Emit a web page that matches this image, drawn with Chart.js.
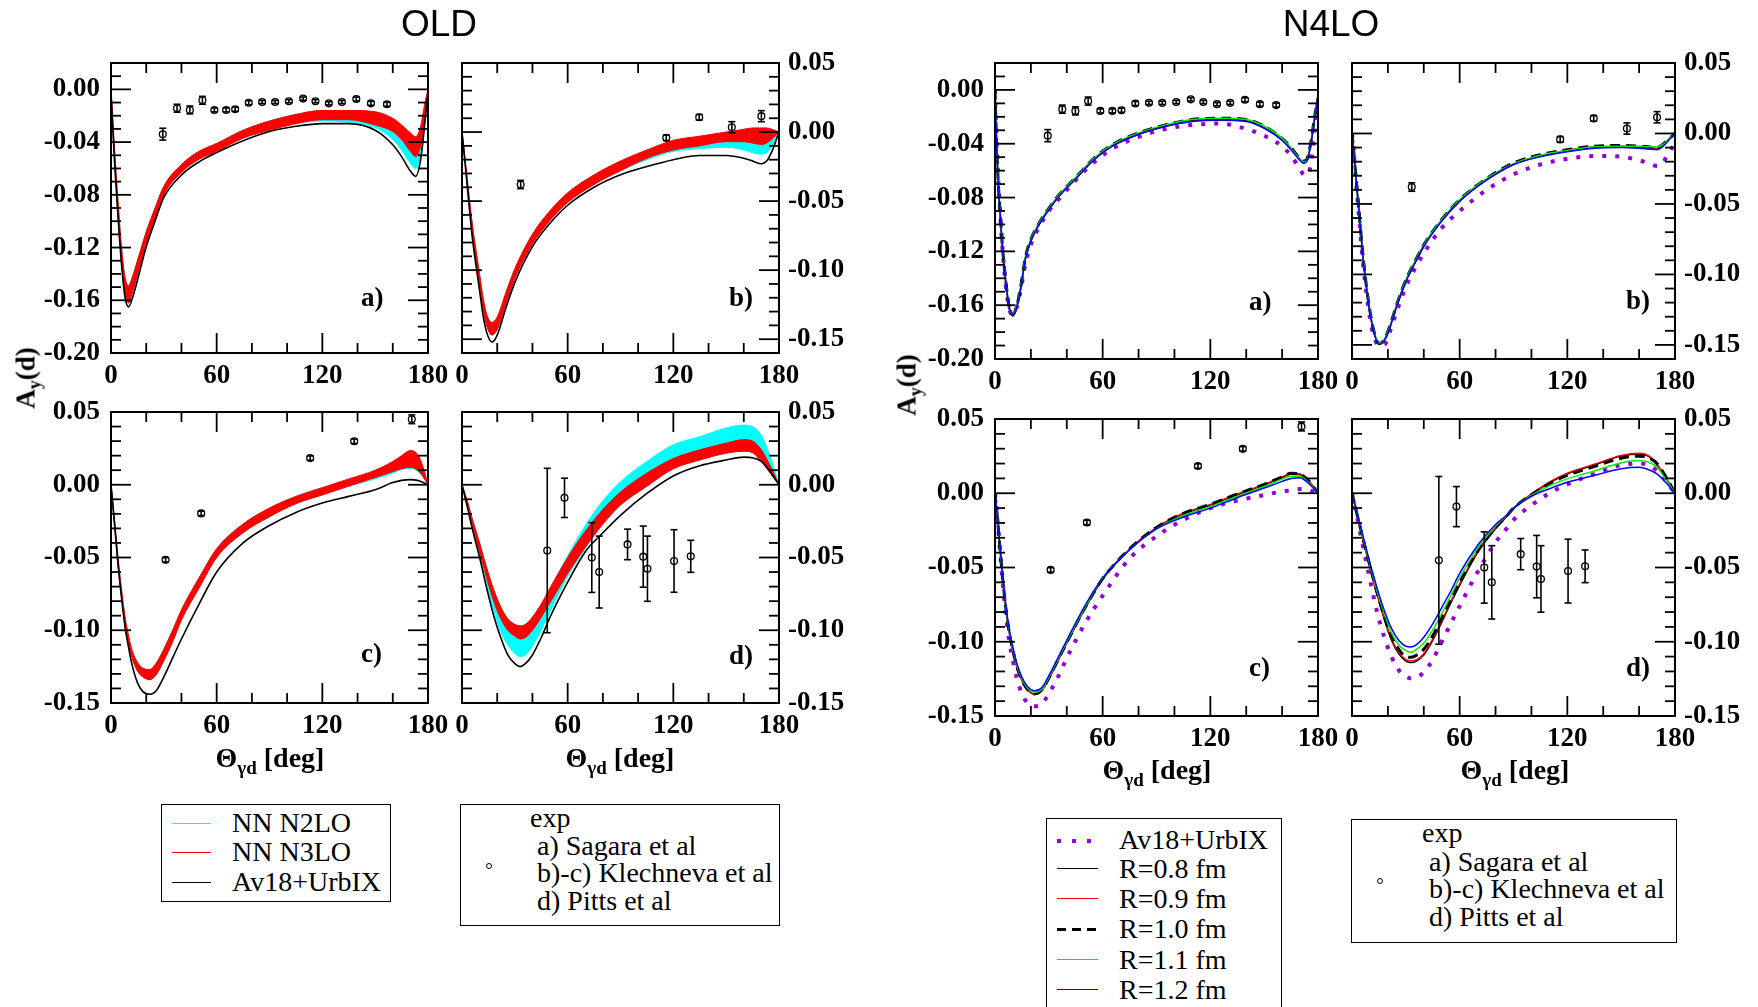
<!DOCTYPE html>
<html><head><meta charset="utf-8">
<script src="https://cdn.jsdelivr.net/npm/chart.js@4/dist/chart.umd.min.js"></script>
<style>
html,body{margin:0;padding:0;background:#fff;}
body{width:1758px;height:1007px;position:relative;overflow:hidden;}
canvas{position:absolute;}
.t{position:absolute;white-space:nowrap;color:#000;line-height:1;}
.serif{font-family:"Liberation Serif","Times New Roman",serif;}
.sans{font-family:"Liberation Sans",Arial,sans-serif;}
.box{position:absolute;border:1.5px solid #000;box-sizing:border-box;background:#fff;}
.ls{position:absolute;height:0;}
.circ{position:absolute;width:6px;height:6px;border:1.2px solid #000;border-radius:50%;box-sizing:border-box;}
</style></head><body>
<script>
// ---------- axis ticks ----------
const xTicks = [0, 60, 120, 180];
const xMinorTicks = [20, 40, 80, 100, 140, 160];
const yTicksA = [-0.20, -0.16, -0.12, -0.08, -0.04, 0.00];
const yTicksBCD = [-0.15, -0.10, -0.05, 0.00, 0.05];
const yRangeA = [-0.20, 0.02];
const yRangeB = [-0.16, 0.05];
const yRangeCD = [-0.15, 0.05];

// ---------- experimental data ----------
const sagX = [29.4, 37.5, 44.8, 51.9, 58.7, 65.4, 70.5, 78.2, 85.8, 93.2, 101.0, 109.1, 116.1, 123.7, 131.1, 139.3, 147.6, 156.7];
const sagY = [-0.034, -0.0143, -0.0156, -0.0083, -0.0156, -0.0156, -0.0151, -0.0101, -0.0096, -0.0096, -0.0090, -0.0070, -0.0090, -0.0106, -0.0096, -0.0073, -0.0106, -0.0113];
const sagE = [0.0045, 0.003, 0.003, 0.003, 0.0015, 0.0015, 0.0015, 0.0015, 0.0012, 0.0012, 0.0012, 0.0012, 0.0012, 0.0012, 0.0012, 0.0015, 0.0015, 0.0015];
const klbX = [33.3, 116.0, 134.7, 153.2, 170.0];
const klbY = [-0.038, -0.0042, 0.0107, 0.0035, 0.0115];
const klbE = [0.003, 0.002, 0.002, 0.004, 0.004];
const klcX = [31.0, 51.2, 113.1, 138.1, 170.8];
const klcY = [-0.0516, -0.0197, 0.0183, 0.0299, 0.045];
const klcE = [0.0015, 0.0015, 0.0015, 0.0015, 0.003];
const pitX = [48.4, 58.2, 73.7, 77.9, 94.0, 102.9, 105.3, 120.4, 129.9];
const pitY = [-0.0452, -0.0090, -0.0500, -0.0600, -0.0410, -0.0494, -0.0577, -0.0524, -0.0492];
const pitE = [0.0565, 0.0135, 0.024, 0.0247, 0.0105, 0.021, 0.0224, 0.0215, 0.011];

// ---------- OLD a ----------
const oldA_x = [0, 2, 4, 6, 8, 10, 12, 15, 20, 25, 30, 40, 50, 60, 75, 90, 105, 120, 135, 150, 160, 165, 170, 173, 176, 178, 180];
const oldA_av = [-0.002, -0.055, -0.097, -0.133, -0.158, -0.165, -0.159, -0.145, -0.1195, -0.100, -0.082, -0.065, -0.055, -0.048, -0.039, -0.032, -0.028, -0.026, -0.026, -0.031, -0.042, -0.051, -0.062, -0.066, -0.052, -0.028, -0.002];
const oldA_n3Up = [0, -0.045, -0.085, -0.120, -0.143, -0.149, -0.143, -0.130, -0.108, -0.090, -0.0735, -0.057, -0.047, -0.041, -0.031, -0.024, -0.019, -0.016, -0.016, -0.017, -0.022, -0.027, -0.033, -0.036, -0.027, -0.012, 0];
const oldA_n3Lo = [-0.002, -0.052, -0.094, -0.130, -0.155, -0.162, -0.155, -0.141, -0.118, -0.098, -0.080, -0.063, -0.053, -0.047, -0.037, -0.031, -0.026, -0.023, -0.023, -0.027, -0.032, -0.038, -0.047, -0.051, -0.042, -0.025, -0.004];
const oldA_n2Up = [0, -0.045, -0.085, -0.120, -0.143, -0.149, -0.143, -0.130, -0.108, -0.090, -0.0735, -0.057, -0.047, -0.041, -0.031, -0.024, -0.019, -0.016, -0.016, -0.018, -0.023, -0.029, -0.036, -0.040, -0.031, -0.014, 0];
const oldA_n2Lo = [-0.002, -0.052, -0.094, -0.130, -0.155, -0.162, -0.155, -0.141, -0.118, -0.098, -0.080, -0.063, -0.053, -0.047, -0.037, -0.031, -0.026, -0.024, -0.025, -0.029, -0.038, -0.046, -0.056, -0.060, -0.050, -0.028, -0.004];

// ---------- OLD b ----------
const oldB_x = [0, 2, 4, 6, 8, 10, 12, 14, 17, 20, 25, 30, 40, 50, 60, 75, 90, 105, 120, 135, 150, 160, 165, 170, 173, 176, 180];
const oldB_av = [0, -0.026, -0.053, -0.078, -0.097, -0.115, -0.133, -0.145, -0.152, -0.147, -0.127, -0.109, -0.083, -0.066, -0.053, -0.040, -0.031, -0.025, -0.020, -0.017, -0.017, -0.019, -0.021, -0.023, -0.021, -0.014, 0];
const oldB_n3Up = [0, -0.022, -0.046, -0.068, -0.086, -0.103, -0.120, -0.132, -0.138, -0.134, -0.116, -0.099, -0.074, -0.057, -0.044, -0.031, -0.021, -0.013, -0.006, -0.003, 0.000, 0.002, 0.003, 0.003, 0.003, 0.002, 0];
const oldB_n3Lo = [0, -0.025, -0.050, -0.074, -0.093, -0.111, -0.128, -0.140, -0.147, -0.143, -0.124, -0.106, -0.081, -0.064, -0.051, -0.038, -0.028, -0.019, -0.013, -0.010, -0.007, -0.007, -0.008, -0.009, -0.008, -0.005, 0];
const oldB_n2Up = [0, -0.022, -0.046, -0.068, -0.086, -0.103, -0.120, -0.132, -0.138, -0.134, -0.116, -0.099, -0.074, -0.057, -0.044, -0.031, -0.021, -0.013, -0.007, -0.004, -0.002, -0.001, -0.001, -0.001, -0.001, 0.000, 0];
const oldB_n2Lo = [0, -0.025, -0.050, -0.074, -0.093, -0.111, -0.128, -0.140, -0.147, -0.143, -0.124, -0.106, -0.081, -0.064, -0.051, -0.038, -0.028, -0.020, -0.014, -0.012, -0.011, -0.013, -0.015, -0.016, -0.015, -0.010, 0];

// ---------- OLD c ----------
const oldC_x = [0, 2, 4, 6, 8, 10, 12, 15, 18, 22, 26, 30, 35, 40, 50, 60, 75, 90, 105, 120, 135, 150, 160, 165, 170, 174, 177, 180];
const oldC_av = [0, -0.027, -0.055, -0.078, -0.098, -0.112, -0.124, -0.136, -0.142, -0.144, -0.141, -0.132, -0.119, -0.106, -0.082, -0.060, -0.040, -0.028, -0.019, -0.0126, -0.008, -0.0034, 0.0015, 0.003, 0.0035, 0.003, 0.0017, 0];
const oldC_n3Up = [0, -0.024, -0.050, -0.072, -0.091, -0.104, -0.114, -0.122, -0.126, -0.127, -0.122, -0.113, -0.100, -0.086, -0.064, -0.044, -0.027, -0.016, -0.008, -0.002, 0.004, 0.010, 0.016, 0.020, 0.0235, 0.021, 0.013, 0];
const oldC_n3Lo = [0, -0.027, -0.054, -0.077, -0.096, -0.109, -0.119, -0.128, -0.132, -0.134, -0.130, -0.121, -0.108, -0.093, -0.071, -0.050, -0.033, -0.022, -0.013, -0.007, -0.001, 0.005, 0.009, 0.011, 0.012, 0.010, 0.006, 0];
const oldC_n2Up = [0, -0.024, -0.050, -0.072, -0.091, -0.104, -0.114, -0.122, -0.126, -0.127, -0.122, -0.113, -0.100, -0.086, -0.064, -0.044, -0.027, -0.016, -0.008, -0.002, 0.003, 0.008, 0.012, 0.014, 0.015, 0.013, 0.008, 0];
const oldC_n2Lo = [0, -0.027, -0.054, -0.077, -0.096, -0.109, -0.119, -0.128, -0.132, -0.134, -0.130, -0.121, -0.108, -0.093, -0.071, -0.050, -0.033, -0.022, -0.013, -0.007, -0.001, 0.004, 0.008, 0.0105, 0.0113, 0.0095, 0.0055, 0];

// ---------- OLD d ----------
const oldD_x = [0, 3, 6, 10, 14, 18, 22, 26, 30, 33, 36, 40, 45, 50, 60, 70, 80, 90, 105, 120, 135, 150, 160, 165, 170, 175, 180];
const oldD_av = [0, -0.015, -0.031, -0.050, -0.071, -0.090, -0.105, -0.117, -0.123, -0.125, -0.123, -0.117, -0.105, -0.091, -0.067, -0.046, -0.033, -0.021, -0.006, 0.006, 0.013, 0.017, 0.019, 0.0185, 0.016, 0.009, 0];
const oldD_n3Up = [0, -0.011, -0.024, -0.040, -0.057, -0.072, -0.084, -0.092, -0.096, -0.097, -0.096, -0.091, -0.082, -0.071, -0.050, -0.032, -0.017, -0.005, 0.008, 0.018, 0.024, 0.0286, 0.031, 0.030, 0.024, 0.013, 0];
const oldD_n3Lo = [0, -0.013, -0.028, -0.046, -0.064, -0.080, -0.092, -0.100, -0.104, -0.106, -0.105, -0.100, -0.091, -0.081, -0.061, -0.043, -0.027, -0.014, -0.001, 0.011, 0.017, 0.0217, 0.023, 0.022, 0.016, 0.008, 0];
const oldD_n2Up = [0, -0.011, -0.024, -0.040, -0.057, -0.072, -0.084, -0.092, -0.096, -0.097, -0.096, -0.091, -0.082, -0.071, -0.049, -0.028, -0.011, 0.002, 0.016, 0.0275, 0.033, 0.039, 0.041, 0.040, 0.034, 0.019, 0];
const oldD_n2Lo = [0, -0.014, -0.030, -0.048, -0.068, -0.086, -0.101, -0.110, -0.116, -0.118, -0.117, -0.111, -0.100, -0.087, -0.063, -0.044, -0.027, -0.014, -0.001, 0.011, 0.017, 0.0217, 0.023, 0.022, 0.016, 0.008, 0];

// ---------- N4LO a ----------
const n4A_x = [0, 1, 2, 3, 4, 6, 8, 10, 12, 14, 17, 20, 25, 30, 35, 45, 55, 65, 80, 95, 110, 125, 140, 150, 160, 165, 170, 172, 174, 176, 178, 180];
const n4A_av = [0, -0.040, -0.072, -0.094, -0.115, -0.145, -0.163, -0.167, -0.162, -0.151, -0.129, -0.115, -0.101, -0.090, -0.082, -0.067, -0.054, -0.044, -0.035, -0.029, -0.026, -0.025, -0.029, -0.034, -0.042, -0.049, -0.059, -0.063, -0.0635, -0.055, -0.032, -0.007];
const n4A_r08 = [0, -0.044, -0.074, -0.094, -0.115, -0.143, -0.163, -0.168, -0.162, -0.150, -0.125, -0.112, -0.099, -0.089, -0.080, -0.066, -0.052, -0.042, -0.033, -0.027, -0.023, -0.022, -0.023, -0.028, -0.037, -0.044, -0.052, -0.054, -0.052, -0.040, -0.022, -0.006];
const n4A_r09 = [0, -0.044, -0.074, -0.094, -0.115, -0.143, -0.163, -0.168, -0.162, -0.150, -0.125, -0.112, -0.099, -0.089, -0.080, -0.066, -0.052, -0.042, -0.033, -0.027, -0.023, -0.0215, -0.0225, -0.0275, -0.0365, -0.0435, -0.0515, -0.0535, -0.0515, -0.040, -0.022, -0.006];
const n4A_r10 = [0, -0.044, -0.073, -0.093, -0.114, -0.142, -0.162, -0.167, -0.161, -0.149, -0.124, -0.111, -0.098, -0.088, -0.079, -0.065, -0.051, -0.041, -0.032, -0.026, -0.022, -0.021, -0.022, -0.027, -0.036, -0.043, -0.051, -0.053, -0.051, -0.039, -0.021, -0.006];
const n4A_r11 = [0, -0.044, -0.073, -0.093, -0.114, -0.142, -0.162, -0.167, -0.161, -0.149, -0.124, -0.111, -0.098, -0.088, -0.079, -0.065, -0.051, -0.041, -0.032, -0.026, -0.022, -0.021, -0.022, -0.027, -0.036, -0.0435, -0.0515, -0.0535, -0.0515, -0.0395, -0.0215, -0.006];
const n4A_r12 = [0, -0.044, -0.074, -0.094, -0.115, -0.142, -0.162, -0.167, -0.162, -0.150, -0.125, -0.112, -0.099, -0.089, -0.080, -0.066, -0.052, -0.042, -0.033, -0.027, -0.0235, -0.0225, -0.0235, -0.0285, -0.0375, -0.0445, -0.0525, -0.0545, -0.0525, -0.0405, -0.0225, -0.006];

// ---------- N4LO b ----------
const n4B_x = [0, 1, 2, 4, 6, 8, 10, 12, 15, 18, 21, 25, 30, 35, 40, 50, 60, 75, 90, 105, 120, 135, 150, 160, 165, 170, 173, 176, 180];
const n4B_av = [0, -0.013, -0.030, -0.060, -0.090, -0.113, -0.131, -0.143, -0.1505, -0.150, -0.141, -0.126, -0.109, -0.096, -0.085, -0.067, -0.055, -0.040, -0.029, -0.022, -0.018, -0.016, -0.0165, -0.019, -0.021, -0.023, -0.021, -0.015, -0.0065];
const n4B_r08 = [0, -0.013, -0.028, -0.057, -0.086, -0.109, -0.127, -0.140, -0.1495, -0.147, -0.138, -0.122, -0.105, -0.092, -0.080, -0.062, -0.048, -0.033, -0.022, -0.016, -0.0125, -0.010, -0.0095, -0.010, -0.0105, -0.011, -0.009, -0.005, 0];
const n4B_r09 = [0, -0.013, -0.028, -0.057, -0.086, -0.109, -0.127, -0.140, -0.1495, -0.147, -0.138, -0.122, -0.105, -0.092, -0.080, -0.062, -0.048, -0.033, -0.022, -0.016, -0.012, -0.0095, -0.009, -0.0095, -0.010, -0.0105, -0.0085, -0.005, 0];
const n4B_r10 = [0, -0.013, -0.028, -0.057, -0.085, -0.108, -0.126, -0.139, -0.149, -0.146, -0.137, -0.121, -0.104, -0.091, -0.079, -0.061, -0.047, -0.032, -0.021, -0.015, -0.0115, -0.009, -0.0085, -0.009, -0.0095, -0.010, -0.008, -0.0045, 0];
const n4B_r11 = [0, -0.013, -0.028, -0.057, -0.085, -0.108, -0.126, -0.139, -0.149, -0.146, -0.137, -0.121, -0.104, -0.091, -0.079, -0.061, -0.047, -0.032, -0.0215, -0.0155, -0.012, -0.0095, -0.009, -0.009, -0.0095, -0.0095, -0.008, -0.0045, 0];
const n4B_r12 = [0, -0.013, -0.028, -0.057, -0.086, -0.109, -0.127, -0.140, -0.1495, -0.147, -0.138, -0.122, -0.105, -0.092, -0.080, -0.062, -0.048, -0.033, -0.022, -0.0165, -0.013, -0.0105, -0.010, -0.0105, -0.011, -0.0115, -0.0095, -0.0055, 0];

// ---------- N4LO c ----------
const n4C_x = [0, 1, 2, 4, 6, 8, 10, 12, 15, 18, 22, 26, 30, 35, 40, 50, 60, 75, 90, 105, 120, 135, 150, 160, 165, 170, 174, 177, 180];
const n4C_av = [0, -0.012, -0.027, -0.056, -0.081, -0.100, -0.113, -0.124, -0.135, -0.141, -0.1435, -0.142, -0.135, -0.124, -0.111, -0.088, -0.069, -0.044, -0.029, -0.018, -0.010, -0.005, -0.0012, 0.0012, 0.002, 0.0028, 0.0025, 0.0012, 0];
const n4C_r08 = [0, -0.012, -0.026, -0.054, -0.077, -0.094, -0.106, -0.116, -0.126, -0.132, -0.1355, -0.133, -0.125, -0.113, -0.101, -0.078, -0.058, -0.038, -0.0235, -0.014, -0.008, -0.001, 0.0055, 0.0105, 0.013, 0.0125, 0.009, 0.005, 0];
const n4C_r09 = [0, -0.012, -0.026, -0.054, -0.077, -0.094, -0.106, -0.116, -0.126, -0.132, -0.1355, -0.133, -0.125, -0.113, -0.1005, -0.0775, -0.0575, -0.0375, -0.023, -0.0135, -0.0075, -0.0005, 0.006, 0.011, 0.0135, 0.013, 0.0095, 0.005, 0];
const n4C_r10 = [0, -0.012, -0.026, -0.054, -0.077, -0.094, -0.106, -0.116, -0.126, -0.132, -0.135, -0.1325, -0.1245, -0.1125, -0.1005, -0.0775, -0.0575, -0.0375, -0.023, -0.0135, -0.0075, -0.0005, 0.006, 0.011, 0.0135, 0.013, 0.0095, 0.005, 0];
const n4C_r11 = [0, -0.012, -0.026, -0.053, -0.076, -0.093, -0.105, -0.115, -0.125, -0.131, -0.134, -0.132, -0.124, -0.112, -0.100, -0.077, -0.057, -0.038, -0.024, -0.015, -0.009, -0.002, 0.0045, 0.0095, 0.0115, 0.0115, 0.008, 0.0045, 0];
const n4C_r12 = [0, -0.012, -0.025, -0.052, -0.075, -0.092, -0.104, -0.114, -0.124, -0.130, -0.133, -0.131, -0.123, -0.111, -0.099, -0.076, -0.057, -0.038, -0.024, -0.016, -0.010, -0.003, 0.0035, 0.008, 0.010, 0.0105, 0.0075, 0.004, 0];

// ---------- N4LO d ----------
const n4D_x = [0, 3, 6, 10, 14, 18, 22, 26, 30, 33, 36, 40, 45, 50, 55, 60, 70, 80, 86, 90, 100, 110, 120, 135, 150, 160, 165, 170, 175, 180];
const n4D_av = [0, -0.017, -0.035, -0.058, -0.080, -0.097, -0.110, -0.119, -0.1235, -0.1247, -0.124, -0.1205, -0.112, -0.100, -0.088, -0.076, -0.053, -0.033, -0.024, -0.018, -0.008, 0.000, 0.006, 0.013, 0.019, 0.020, 0.019, 0.015, 0.008, 0];
const n4D_r08 = [0, -0.015, -0.030, -0.050, -0.068, -0.085, -0.099, -0.108, -0.113, -0.114, -0.113, -0.109, -0.099, -0.087, -0.074, -0.062, -0.040, -0.024, -0.016, -0.0105, -0.001, 0.007, 0.013, 0.019, 0.025, 0.0265, 0.025, 0.019, 0.010, 0];
const n4D_r09 = [0, -0.015, -0.030, -0.050, -0.068, -0.084, -0.098, -0.107, -0.112, -0.1128, -0.112, -0.108, -0.098, -0.086, -0.073, -0.061, -0.039, -0.023, -0.0155, -0.010, -0.0005, 0.0075, 0.0135, 0.0195, 0.0255, 0.027, 0.0255, 0.0195, 0.010, 0];
const n4D_r10 = [0, -0.015, -0.030, -0.049, -0.067, -0.083, -0.096, -0.105, -0.110, -0.1105, -0.109, -0.105, -0.096, -0.084, -0.072, -0.060, -0.039, -0.023, -0.0155, -0.010, -0.001, 0.0065, 0.012, 0.018, 0.0236, 0.025, 0.024, 0.020, 0.011, 0];
const n4D_r11 = [0, -0.014, -0.029, -0.048, -0.066, -0.081, -0.094, -0.102, -0.106, -0.107, -0.105, -0.101, -0.092, -0.081, -0.069, -0.057, -0.037, -0.022, -0.015, -0.010, -0.0015, 0.005, 0.0097, 0.015, 0.0204, 0.022, 0.021, 0.0175, 0.009, 0];
const n4D_r12 = [0, -0.014, -0.028, -0.047, -0.064, -0.079, -0.091, -0.099, -0.103, -0.1035, -0.102, -0.097, -0.088, -0.077, -0.066, -0.054, -0.035, -0.021, -0.015, -0.010, -0.002, 0.003, 0.0074, 0.012, 0.0165, 0.0175, 0.016, 0.013, 0.007, 0];

// ---------- layout / style ----------
const frames = {
  oldA: [111, 63, 428, 353], oldB: [462, 63, 779, 353],
  oldC: [111, 412, 428, 703], oldD: [462, 412, 779, 703],
  n4A: [995, 63, 1318, 359], n4B: [1352, 63, 1675, 359],
  n4C: [995, 419, 1318, 716], n4D: [1352, 419, 1675, 716]
};
const C = { cyan: '#00ffff', red: '#ff0000', violet: '#9400d3', green: '#00ee00', blue: '#0000ff', black: '#000000' };
const tickFont = { family: '"Liberation Serif", "Times New Roman", serif', size: 27, weight: 'bold' };

function pts(xs, ys) { return xs.map((x, i) => ({ x: x, y: ys[i] })); }
function curve(xs, ys, color, width, dash, order) {
  return { data: pts(xs, ys), borderColor: color, backgroundColor: color, borderWidth: width,
    borderDash: dash, borderCapStyle: 'butt', pointRadius: 0, cubicInterpolationMode: 'monotone', fill: false, order: order };
}
function band(xs, up, lo, color, order) {
  return [
    { data: pts(xs, up), borderColor: color, backgroundColor: color, borderWidth: 1, pointRadius: 0, cubicInterpolationMode: 'monotone', fill: '+1', order: order },
    { data: pts(xs, lo), borderColor: color, backgroundColor: color, borderWidth: 1, pointRadius: 0, cubicInterpolationMode: 'monotone', fill: false, order: order }
  ];
}
function expPts(xs, ys, es) {
  return { data: pts(xs, ys), showLine: false, pointRadius: 3.4, pointBorderWidth: 1.3, pointBorderColor: '#000',
    pointBackgroundColor: 'rgba(0,0,0,0)', errorBars: es, order: 0 };
}
function oldSets(xs, n2u, n2l, n3u, n3l, av, ex, ey, ee) {
  return [...band(xs, n2u, n2l, C.cyan, 4), ...band(xs, n3u, n3l, C.red, 3), curve(xs, av, C.black, 1.6, [], 2), expPts(ex, ey, ee)];
}
function n4Sets(xs, av, r08, r09, r10, r11, r12, ex, ey, ee) {
  return [
    curve(xs, av, C.violet, 4, [4, 9], 7),
    curve(xs, r08, C.black, 1.5, [], 6),
    curve(xs, r09, C.red, 1.5, [], 5),
    curve(xs, r10, C.black, 3, [10, 6], 4),
    curve(xs, r11, C.green, 1.5, [], 3),
    curve(xs, r12, C.blue, 1.5, [], 2),
    expPts(ex, ey, ee)
  ];
}

function framePlugin(yMajor) {
  return {
    id: 'frameTicks',
    afterDatasetsDraw(chart) {
      const ctx = chart.ctx, a = chart.chartArea, xs = chart.scales.x, ys = chart.scales.y;
      ctx.save();
      ctx.strokeStyle = '#000';
      const seg = (x1, y1, x2, y2) => { ctx.beginPath(); ctx.moveTo(x1, y1); ctx.lineTo(x2, y2); ctx.stroke(); };
      // error bars
      ctx.lineWidth = 1.6;
      chart.data.datasets.forEach((ds, i) => {
        if (!ds.errorBars) return;
        const meta = chart.getDatasetMeta(i);
        meta.data.forEach((el, j) => {
          const v = ds.data[j].y, e = ds.errorBars[j];
          const y1 = ys.getPixelForValue(v + e), y2 = ys.getPixelForValue(v - e);
          seg(el.x, y1, el.x, y2);
          seg(el.x - 3.5, y1, el.x + 3.5, y1);
          seg(el.x - 3.5, y2, el.x + 3.5, y2);
        });
      });
      // ticks
      ctx.lineWidth = 1.8;
      xTicks.forEach(v => { const p = xs.getPixelForValue(v); seg(p, a.bottom, p, a.bottom - 20); seg(p, a.top, p, a.top + 20); });
      xMinorTicks.forEach(v => { const p = xs.getPixelForValue(v); seg(p, a.bottom, p, a.bottom - 10); seg(p, a.top, p, a.top + 10); });
      const majSet = new Set(yMajor.map(v => Math.round(v * 100)));
      for (let k = Math.round(ys.min * 100); k <= Math.round(ys.max * 100); k++) {
        const p = ys.getPixelForValue(k / 100);
        const L = majSet.has(k) ? 20 : 10;
        seg(a.left, p, a.left + L, p); seg(a.right, p, a.right - L, p);
      }
      ctx.lineWidth = 2;
      ctx.strokeRect(a.left, a.top, a.right - a.left, a.bottom - a.top);
      ctx.restore();
    }
  };
}

function makePanel(key, side, yRange, yMajor, datasets) {
  const [L, T, R, B] = frames[key];
  const AX = 110, PAD = 40, TOP = 36, BOT = 50;
  const cv = document.createElement('canvas');
  const left = side === 'left' ? L - AX : L - PAD;
  const w = (R - L) + AX + PAD, h = (B - T) + TOP + BOT;
  cv.width = w; cv.height = h;
  cv.style.left = left + 'px'; cv.style.top = (T - TOP) + 'px';
  cv.style.width = w + 'px'; cv.style.height = h + 'px';
  document.body.appendChild(cv);
  new Chart(cv, {
    type: 'line',
    data: { datasets: datasets },
    options: {
      responsive: false, animation: false, devicePixelRatio: 1, events: [],
      layout: { padding: { left: side === 'left' ? 0 : PAD, right: side === 'left' ? PAD : 0, top: TOP, bottom: 0 } },
      plugins: { legend: { display: false }, tooltip: { enabled: false } },
      scales: {
        x: { type: 'linear', min: 0, max: 180, position: 'bottom',
          grid: { display: false, drawTicks: false }, border: { display: false },
          afterBuildTicks: s => { s.ticks = xTicks.map(v => ({ value: v })); },
          afterFit: s => { s.height = BOT; },
          ticks: { autoSkip: false, maxRotation: 0, padding: 7, color: '#000', font: tickFont, callback: v => String(v) } },
        y: { type: 'linear', min: yRange[0], max: yRange[1], position: side,
          grid: { display: false, drawTicks: false }, border: { display: false },
          afterBuildTicks: s => { s.ticks = yMajor.map(v => ({ value: v })); },
          afterFit: s => { s.width = AX; },
          ticks: { autoSkip: false, padding: side === 'left' ? 11 : 9, color: '#000', font: tickFont, callback: v => Number(v).toFixed(2) } }
      }
    },
    plugins: [framePlugin(yMajor)]
  });
}

makePanel('oldA', 'left', yRangeA, yTicksA, oldSets(oldA_x, oldA_n2Up, oldA_n2Lo, oldA_n3Up, oldA_n3Lo, oldA_av, sagX, sagY, sagE));
makePanel('oldB', 'right', yRangeB, yTicksBCD, oldSets(oldB_x, oldB_n2Up, oldB_n2Lo, oldB_n3Up, oldB_n3Lo, oldB_av, klbX, klbY, klbE));
makePanel('oldC', 'left', yRangeCD, yTicksBCD, oldSets(oldC_x, oldC_n2Up, oldC_n2Lo, oldC_n3Up, oldC_n3Lo, oldC_av, klcX, klcY, klcE));
makePanel('oldD', 'right', yRangeCD, yTicksBCD, oldSets(oldD_x, oldD_n2Up, oldD_n2Lo, oldD_n3Up, oldD_n3Lo, oldD_av, pitX, pitY, pitE));
makePanel('n4A', 'left', yRangeA, yTicksA, n4Sets(n4A_x, n4A_av, n4A_r08, n4A_r09, n4A_r10, n4A_r11, n4A_r12, sagX, sagY, sagE));
makePanel('n4B', 'right', yRangeB, yTicksBCD, n4Sets(n4B_x, n4B_av, n4B_r08, n4B_r09, n4B_r10, n4B_r11, n4B_r12, klbX, klbY, klbE));
makePanel('n4C', 'left', yRangeCD, yTicksBCD, n4Sets(n4C_x, n4C_av, n4C_r08, n4C_r09, n4C_r10, n4C_r11, n4C_r12, klcX, klcY, klcE));
makePanel('n4D', 'right', yRangeCD, yTicksBCD, n4Sets(n4D_x, n4D_av, n4D_r08, n4D_r09, n4D_r10, n4D_r11, n4D_r12, pitX, pitY, pitE));

// ---------- text & legends ----------
function el(cls, html, style) {
  const d = document.createElement('div'); d.className = cls; d.innerHTML = html;
  Object.assign(d.style, style); document.body.appendChild(d); return d;
}
function stext(html, x, base, size, bold, extra) {
  return el('t serif', html, Object.assign({ left: x + 'px', top: (base - 0.8375 * size) + 'px', fontSize: size + 'px', fontWeight: bold ? 'bold' : 'normal' }, extra || {}));
}
el('t sans', 'OLD', { left: '339px', width: '200px', textAlign: 'center', top: '4.5px', fontSize: '37px' });
el('t sans', 'N4LO', { left: '1231px', width: '200px', textAlign: 'center', top: '4.5px', fontSize: '37px' });

[['a)', 361, 307], ['b)', 729, 307], ['c)', 361, 663], ['d)', 729, 665],
 ['a)', 1249, 311], ['b)', 1626, 310], ['c)', 1249, 677], ['d)', 1626, 677]].forEach(p => stext(p[0], p[1], p[2], 27, true));

const xTitle = 'Θ<span style="font-size:19px;position:relative;top:7px">γd</span> [deg]';
[[270, 767], [620, 767], [1157, 779], [1515, 779]].forEach(p => {
  stext(xTitle, p[0] - 150, p[1], 28, true, { width: '300px', textAlign: 'center' });
});
const yTitle = 'A<span style="font-size:18px;position:relative;top:6px">y</span>(d)';
[[26, 378], [907, 385]].forEach(p => {
  el('t serif', yTitle, { left: p[0] + 'px', top: p[1] + 'px', fontSize: '27px', fontWeight: 'bold', transform: 'translate(-50%,-50%) rotate(-90deg)' });
});

function lbox(x, y, w, h) { el('box', '', { left: x + 'px', top: y + 'px', width: w + 'px', height: h + 'px' }); }
function sample(x, y, w, style) { el('ls', '', Object.assign({ left: x + 'px', top: y + 'px', width: w + 'px' }, style)); }

// OLD legend 1
lbox(161, 804, 230, 98);
[['NN N2LO', C.cyan, 824], ['NN N3LO', C.red, 853], ['Av18+UrbIX', C.black, 883]].forEach(r => {
  sample(172, r[2] - 0.75, 39, { borderTop: '1.5px solid ' + r[1] });
  stext(r[0], 232, r[2] + 8.5, 28, false);
});
// OLD legend 2
lbox(460, 804, 320, 122);
el('circ', '', { left: '486px', top: '863px' });
stext('exp', 530, 827, 28, false);
stext('a) Sagara et al', 537, 855, 28, false);
stext('b)-c) Klechneva et al', 537, 882, 28, false);
stext('d) Pitts et al', 537, 910, 28, false);

// N4LO legend 1
lbox(1046, 818, 236, 240);
const n4rows = [
  ['Av18+UrbIX', 840, { height: '4px', width: '36px', background: 'repeating-linear-gradient(to right,' + C.violet + ' 0 4px, transparent 4px 15px)' }],
  ['R=0.8 fm', 869, { borderTop: '1.5px solid #000' }],
  ['R=0.9 fm', 899, { borderTop: '1.5px solid ' + C.red }],
  ['R=1.0 fm', 929, { height: '3px', background: 'repeating-linear-gradient(to right,#000 0 9px, transparent 9px 15px)' }],
  ['R=1.1 fm', 960, { borderTop: '1.5px solid ' + C.green }],
  ['R=1.2 fm', 990, { borderTop: '1.5px solid ' + C.blue }]
];
n4rows.forEach(r => {
  sample(1057, r[1] - 1.5, 41, r[2]);
  stext(r[0], 1119, r[1] + 9, 28, false);
});
// N4LO legend 2
lbox(1351, 819, 326, 124);
el('circ', '', { left: '1377px', top: '878px' });
stext('exp', 1422, 842, 28, false);
stext('a) Sagara et al', 1429, 871, 28, false);
stext('b)-c) Klechneva et al', 1429, 898, 28, false);
stext('d) Pitts et al', 1429, 926, 28, false);
</script>
</body></html>
